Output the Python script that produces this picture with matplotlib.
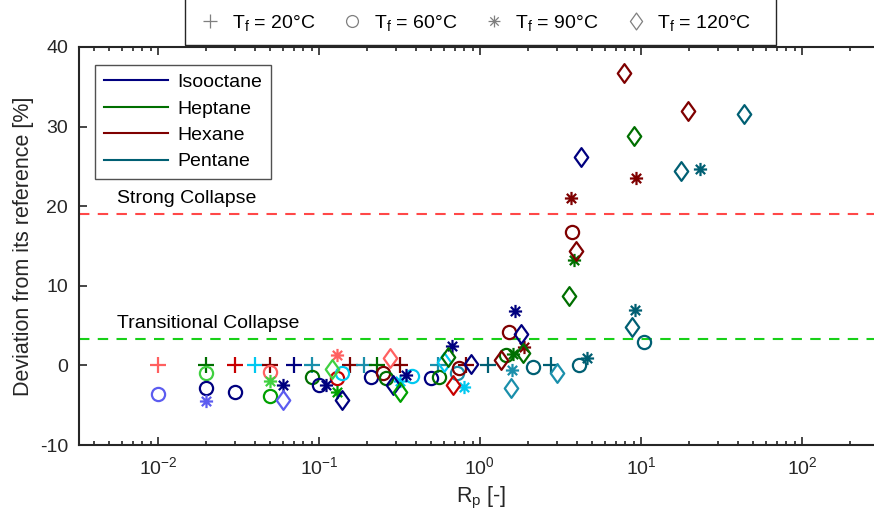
import numpy as np
import matplotlib
matplotlib.use("Agg")
import matplotlib.pyplot as plt
from matplotlib.path import Path
from matplotlib.lines import Line2D
from matplotlib.patches import Rectangle

plt.rcParams["font.family"] = ["Liberation Sans", "DejaVu Sans"]
plt.rcParams["mathtext.fontset"] = "custom"
plt.rcParams["mathtext.rm"] = "Liberation Sans"
plt.rcParams["mathtext.it"] = "Liberation Sans:italic"
plt.rcParams["mathtext.default"] = "regular"
plt.rcParams["axes.unicode_minus"] = False

# shade palette per fluid (dark / medium / light)
COLORS = {
    "navy": "#00007f",
    "blue_l": "#5c5cf0",
    "green_d": "#006f00",
    "green": "#00a000",
    "green_l": "#40d040",
    "red_d": "#7f0000",
    "red": "#c80000",
    "red_l": "#ff6060",
    "teal_d": "#005f73",
    "teal": "#1a8fab",
    "cyan": "#00c8f0",
}

fluids = ["Isooctane", "Heptane", "Hexane", "Pentane"]
fluid_colors = ["navy", "green_d", "red_d", "teal_d"]

# T_f = 20 C
rp_20 = [0.01, 0.02, 0.03, 0.04, 0.05, 0.07, 0.09, 0.155, 0.19, 0.23, 0.32,
         0.55, 0.82, 1.12, 2.75]
dev_20 = [0, 0, 0, 0, 0, 0, 0, 0, 0, 0, 0, 0, 0, 0, 0]
col_20 = ["red_l", "green_d", "red", "cyan", "red_d", "navy", "teal", "red_d",
          "teal", "green_d", "red_d", "teal", "red_d", "teal_d", "teal_d"]

# T_f = 60 C
rp_60 = [0.01, 0.02, 0.02, 0.03, 0.05, 0.05, 0.09, 0.10, 0.13, 0.14, 0.21,
         0.25, 0.26, 0.38, 0.50, 0.56, 0.72, 0.74, 1.45, 1.52, 2.15, 3.74,
         4.1, 10.5]
dev_60 = [-3.6, -1.0, -2.9, -3.3, -0.8, -3.9, -1.5, -2.5, -1.6, -0.9, -1.4,
          -0.9, -1.6, -1.3, -1.6, -1.4, -1.0, -0.3, 1.3, 4.2, -0.2, 16.7,
          0.0, 3.0]
col_60 = ["blue_l", "green_l", "navy", "navy", "red_l", "green", "green_d",
          "navy", "red", "cyan", "navy", "red_d", "green_d", "cyan", "navy",
          "green_d", "teal", "red_d", "green_d", "red_d", "teal_d", "red_d",
          "teal_d", "teal_d"]

# T_f = 90 C
rp_90 = [0.02, 0.05, 0.06, 0.11, 0.13, 0.13, 0.32, 0.35, 0.67, 0.80, 1.58,
         1.60, 1.65, 1.88, 3.70, 3.85, 4.6, 9.2, 9.3, 23.2]
dev_90 = [-4.5, -2.0, -2.5, -2.5, 1.3, -3.3, -1.9, -1.2, 2.5, -2.7, -0.6,
          1.4, 6.8, 2.3, 21.0, 13.3, 0.9, 7.0, 23.6, 24.7]
col_90 = ["blue_l", "green_l", "navy", "navy", "red_l", "green", "cyan",
          "navy", "navy", "cyan", "teal", "green_d", "navy", "red_d", "red_d",
          "green_d", "teal_d", "teal_d", "red_d", "teal_d"]

# T_f = 120 C
rp_120 = [0.06, 0.12, 0.14, 0.275, 0.29, 0.32, 0.60, 0.63, 0.68, 0.88, 1.35,
          1.56, 1.80, 1.84, 3.0, 3.6, 3.96, 4.24, 7.8, 8.8, 9.05, 17.8, 19.6,
          44.0]
dev_120 = [-4.4, -0.5, -4.4, 0.9, -2.5, -3.3, 0.4, 1.1, -2.5, 0.2, 0.7, -2.9,
           4.0, 1.5, -1.0, 8.7, 14.4, 26.2, 36.7, 4.8, 28.8, 24.4, 32.0, 31.6]
col_120 = ["blue_l", "green_l", "navy", "red_l", "navy", "green", "cyan",
           "green_d", "red", "navy", "red_d", "teal", "navy", "green_d",
           "teal", "green_d", "red_d", "navy", "red_d", "teal_d", "green_d",
           "teal_d", "red_d", "teal_d"]

temp_labels = ["20", "60", "90", "120"]
strong_collapse = 19.0
transitional_collapse = 3.3

# MATLAB-style asterisk: + and x overlaid
_v, _c = [], []
for ang in (0, 45, 90, 135):
    a = np.deg2rad(ang)
    _v += [(-np.cos(a), -np.sin(a)), (np.cos(a), np.sin(a))]
    _c += [Path.MOVETO, Path.LINETO]
ASTERISK = Path(_v, _c)
# wider diamond than the built-in thin one
DIAMOND = Path([(0, -1), (0.72, 0), (0, 1), (-0.72, 0), (0, -1)], closed=True)

markers = ["+", "o", ASTERISK, DIAMOND]
msizes = [11, 9.5, 9.5, 13.5]

fig = plt.figure(figsize=(8.74, 5.26), dpi=100)
ax = fig.add_axes([79 / 874, 81 / 526, 805 / 874, 398 / 526])

ax.axhline(strong_collapse, color="#ff4848", ls=(0, (5, 4)), lw=1.5, zorder=1)
ax.axhline(transitional_collapse, color="#18d018", ls=(0, (5, 4)), lw=1.5, zorder=1)
ax.text(0.0056, strong_collapse + 0.9, "Strong Collapse", fontsize=14, va="bottom")
ax.text(0.0056, transitional_collapse + 0.9, "Transitional Collapse", fontsize=14, va="bottom")

series = [(rp_20, dev_20, col_20), (rp_60, dev_60, col_60),
          (rp_90, dev_90, col_90), (rp_120, dev_120, col_120)]
for (xs, ys, cs), m, ms in zip(series, markers, msizes):
    for x, y, c in zip(xs, ys, cs):
        ax.plot(x, y, ls="none", marker=m, ms=ms, mew=1.6,
                color=COLORS[c], mfc="none", zorder=3)

ax.set_xscale("log")
ax.set_xlim(10 ** -2.49, 10 ** 2.51)
ax.set_ylim(-10, 40)
ax.set_yticks([-10, 0, 10, 20, 30, 40])
ax.tick_params(which="both", direction="in", top=True, right=True,
               labelsize=14, width=1.2, colors="#262626")
ax.tick_params(which="major", length=6)
ax.tick_params(which="minor", length=3)
ax.tick_params(axis="x", which="major", pad=8)
ax.tick_params(axis="y", which="major", pad=8)
for s in ax.spines.values():
    s.set_linewidth(1.5)
    s.set_color("#262626")

ax.set_xlabel("R$_p$ [-]", fontsize=15.5, color="#262626", labelpad=5)
ax.set_ylabel("Deviation from its reference [%]", fontsize=15.5,
              color="#262626", labelpad=4)

# fluid legend inside the axes
fl_handles = [Line2D([], [], color=COLORS[c], lw=1.5) for c in fluid_colors]
leg1 = ax.legend(fl_handles, fluids, loc="upper left", borderaxespad=0,
                 bbox_to_anchor=(0.02, 0.955), fontsize=14, handlelength=3.3,
                 handletextpad=0.5, frameon=True, fancybox=False,
                 edgecolor="#262626", borderpad=0.45, labelspacing=0.45)
leg1.get_frame().set_linewidth(1.0)

# temperature legend above the axes, frame drawn separately
t_handles = [Line2D([], [], ls="none", marker=m, ms=ms * 0.9, mew=0.9,
                    color="#7f7f7f", mfc="none")
             for m, ms in zip(markers, msizes)]
t_labels = ["T$_f$ = %s°C" % t for t in temp_labels]
fig.legend(t_handles, t_labels, loc="center",
           bbox_to_anchor=(476 / 874, 1 - 23 / 526), ncol=4, fontsize=14,
           frameon=False, handlelength=1.0, handletextpad=0.6,
           columnspacing=1.4, borderpad=0)
fig.patches.append(Rectangle((185 / 874, 1 - 45 / 526), 591 / 874, 0.2,
                             transform=fig.transFigure, fill=False,
                             edgecolor="#262626", lw=1.0))

fig.savefig("out.png", dpi=100)
